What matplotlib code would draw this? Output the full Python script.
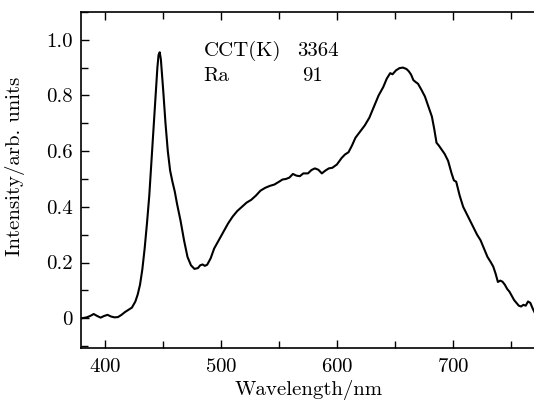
import matplotlib
matplotlib.use("Agg")
import matplotlib.pyplot as plt
from matplotlib.ticker import MultipleLocator, FuncFormatter

# spectrum (10 values per row)
wavelength = [380, 384, 387, 390, 393, 396, 399, 402, 405, 408,
              411, 414, 417, 420, 423, 426, 428, 430, 432, 434,
              436, 438, 440, 442, 444, 445, 446, 447, 448, 450,
              452, 454, 456, 458, 460, 462, 465, 468, 471, 474,
              477, 480, 482, 484, 486, 488, 491, 494, 498, 502,
              506, 510, 514, 518, 522, 526, 530, 534, 538, 542,
              546, 550, 553, 556, 559, 562, 565, 568, 571, 575,
              578, 581, 584, 587, 590, 593, 596, 600, 604, 607,
              610, 613, 616, 620, 624, 628, 632, 636, 640, 643,
              646, 648, 651, 654, 657, 660, 662, 664, 666, 668,
              670, 673, 676, 679, 682, 684, 686, 688, 690, 693,
              696, 699, 701, 703, 706, 709, 712, 715, 718, 721,
              724, 727, 730, 733, 735, 737, 739, 741, 743, 745,
              747, 749, 751, 753, 755, 757, 759, 761, 763, 765,
              767, 769, 771]
intensity = [0.000, 0.003, 0.008, 0.015, 0.008, 0.002, 0.008, 0.012, 0.006, 0.003,
             0.004, 0.012, 0.022, 0.030, 0.038, 0.060, 0.085, 0.120, 0.175, 0.250,
             0.340, 0.440, 0.570, 0.700, 0.830, 0.900, 0.945, 0.955, 0.930, 0.820,
             0.700, 0.600, 0.530, 0.490, 0.455, 0.410, 0.350, 0.280, 0.220, 0.190,
             0.177, 0.180, 0.190, 0.193, 0.188, 0.192, 0.215, 0.250, 0.280, 0.310,
             0.340, 0.365, 0.385, 0.400, 0.415, 0.425, 0.440, 0.458, 0.468, 0.475,
             0.480, 0.490, 0.498, 0.500, 0.505, 0.518, 0.512, 0.510, 0.520, 0.520,
             0.532, 0.538, 0.533, 0.520, 0.530, 0.538, 0.540, 0.552, 0.575, 0.588,
             0.596, 0.620, 0.648, 0.670, 0.692, 0.720, 0.760, 0.800, 0.830, 0.860,
             0.880, 0.876, 0.890, 0.898, 0.900, 0.895, 0.887, 0.875, 0.855, 0.848,
             0.842, 0.820, 0.796, 0.760, 0.724, 0.680, 0.630, 0.620, 0.608, 0.590,
             0.565, 0.520, 0.495, 0.490, 0.440, 0.400, 0.375, 0.350, 0.325, 0.300,
             0.280, 0.250, 0.220, 0.200, 0.185, 0.160, 0.130, 0.135, 0.131, 0.120,
             0.105, 0.095, 0.080, 0.065, 0.055, 0.045, 0.042, 0.048, 0.045, 0.060,
             0.055, 0.035, 0.018]

x_ticks = [400, 500, 600, 700]
y_ticks = [0, 0.2, 0.4, 0.6, 0.8, 1.0]
cct_label, cct_value = "CCT(K)", "3364"
ra_label, ra_value = "Ra", "91"

plt.rcParams['font.family'] = 'serif'
plt.rcParams['font.serif'] = ['cmr10']
plt.rcParams['mathtext.fontset'] = 'cm'
plt.rcParams['axes.formatter.use_mathtext'] = True
plt.rcParams['font.size'] = 15

fig = plt.figure(figsize=(5.34, 4.03), dpi=100)
ax = fig.add_axes([0.152, 0.1365, 0.852, 0.834])

ax.plot(wavelength, intensity, color='black', lw=1.5)

ax.set_xlim(379.2, 772)
ax.set_ylim(-0.107, 1.1)
ax.set_xticks(x_ticks)
ax.set_yticks(y_ticks)
ax.xaxis.set_minor_locator(MultipleLocator(50))
ax.yaxis.set_minor_locator(MultipleLocator(0.1))
ax.yaxis.set_major_formatter(FuncFormatter(lambda v, p: "0" if abs(v) < 1e-9 else f"{v:.1f}"))
ax.tick_params(which='both', direction='in', top=True, right=False, width=1.0)
ax.tick_params(which='major', length=6, labelsize=15)
ax.tick_params(which='minor', length=5)
ax.tick_params(axis='x', pad=7)
ax.tick_params(axis='y', pad=6)
for side in ['left', 'bottom', 'top', 'right']:
    ax.spines[side].set_linewidth(1.2)

ax.set_xlabel("Wavelength/nm", fontsize=15, labelpad=3)
ax.set_ylabel("Intensity/arb. units", fontsize=15)
ax.yaxis.set_label_coords(-0.124, 0.54)

ax.text(485, 0.96, cct_label, fontsize=15, va='center', ha='left')
ax.text(566, 0.96, cct_value, fontsize=15, va='center', ha='left')
ax.text(485, 0.87, ra_label, fontsize=15, va='center', ha='left')
ax.text(570, 0.87, ra_value, fontsize=15, va='center', ha='left')

fig.savefig("out.png", dpi=100)
